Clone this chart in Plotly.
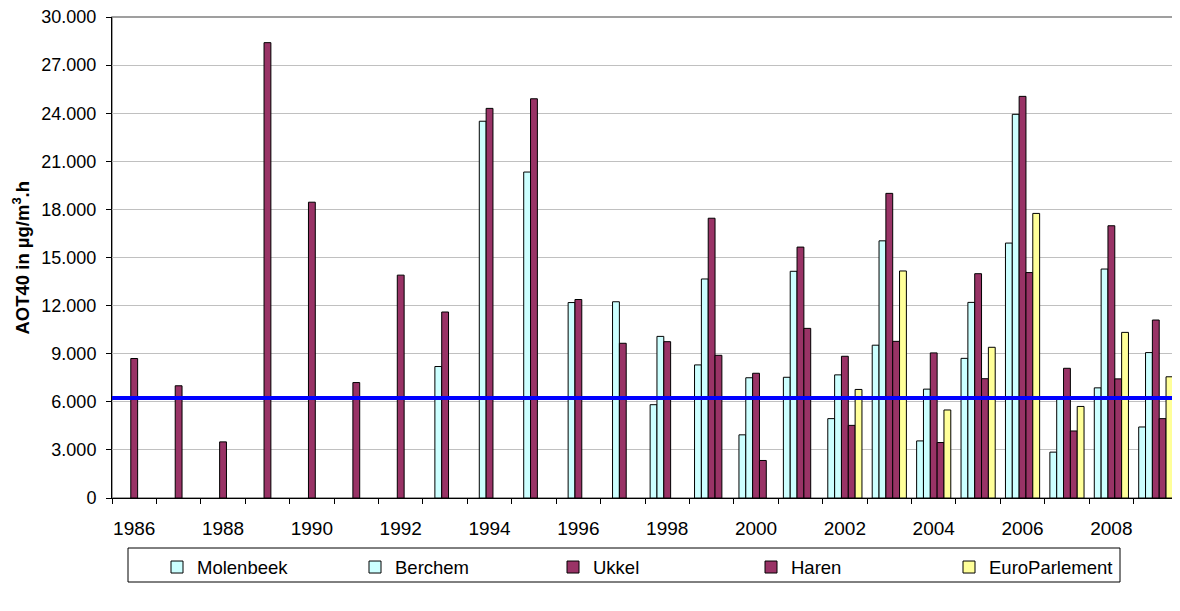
import plotly.graph_objects as go

years = list(range(1986, 2010))
series_names = ["Molenbeek", "Berchem", "Ukkel", "Haren", "EuroParlement"]
N = None
molenbeek = [N]*12 + [5820, 8300, 3940, 7530, 4950, 9530, 3560, 8710, 15900, 2860, 6870, 4430]
berchem = [N]*7 + [8200, 23500, 20330, 12190, 12240, 10080, 13660, 7500, 14140, 7680, 16040, 6790, 12200, 23930, 6200, 14280, 9070]
ukkel = [8700, 7000, 3500, 28400, 18450, 7200, 13900, 11600, 24300, 24900, 12380, 9650, 9750, 17450, 7780, 15650, 8840, 19000, 9050, 13990, 25050, 8090, 16980, 11100]
haren = [N]*13 + [8900, 2340, 10580, 4530, 9770, 3460, 7440, 14060, 4180, 7430, 4950]
europarlement = [N]*16 + [6770, 14160, 5490, 9400, 17750, 5710, 10330, 7560]
target_value = 6230
tick_years = list(range(1986, 2010, 2))
y_ticks = list(range(0, 30001, 3000))

colors = ["#CCFFFF", "#CCFFFF", "#993366", "#993366", "#FFFF99"]
values = [molenbeek, berchem, ukkel, haren, europarlement]

fig = go.Figure()
for name, vals, col in zip(series_names, values, colors):
    fig.add_trace(go.Bar(
        x=years, y=vals, name=name,
        marker=dict(color=col, line=dict(color="black", width=1)),
    ))

PLOT_H = 481  # plot-area height in px (603 - 9 - 113)
fig.add_shape(type="line", xref="paper", yref="y", x0=0, x1=1,
              y0=target_value, y1=target_value,
              line=dict(color="#0000FF", width=4), layer="above")
# plot area border (grey top/right)
fig.add_shape(type="rect", xref="paper", yref="paper", x0=0, x1=1, y0=0, y1=1,
              line=dict(color="#808080", width=1.5), layer="below")
# legend frame
fig.add_shape(type="rect", xref="paper", yref="paper",
              x0=(128-112)/1066, x1=(1120-112)/1066,
              y0=-(582-498)/PLOT_H, y1=-(548-498)/PLOT_H,
              line=dict(color="black", width=1), fillcolor="rgba(0,0,0,0)")

font = "Liberation Sans, Arial, sans-serif"
# page body has an 8px margin: figure is sized/offset to compensate
fig.update_layout(
    width=1172, height=603,
    margin=dict(l=104, r=2, t=9, b=113, autoexpand=False),
    paper_bgcolor="white", plot_bgcolor="white",
    barmode="group", bargap=1.5/6.5, bargroupgap=0,
    separators=",.",
    font=dict(family=font, size=18, color="black"),
    showlegend=True,
    legend=dict(orientation="h", x=(157-112)/1066, y=-50.5/PLOT_H, xanchor="left", yanchor="top",
                borderwidth=0, bgcolor="rgba(0,0,0,0)", font=dict(size=18.5),
                entrywidth=153, entrywidthmode="pixels", itemwidth=30,
                traceorder="normal"),
    xaxis=dict(range=[1985.5, 2009.5], tickmode="array", tickvals=tick_years,
               ticktext=[str(y) for y in tick_years],
               showgrid=False, zeroline=False, showline=True, linecolor="black", linewidth=1,
               ticks="outside", ticklen=5, tickcolor="rgba(0,0,0,0)",
               ticklabelstandoff=8,
               minor=dict(tick0=1985.5, dtick=1, ticks="outside", ticklen=5,
                          tickcolor="black", showgrid=False),
               tickfont=dict(size=19)),
    yaxis=dict(range=[0, 30000], tickmode="array", tickvals=y_ticks, tickformat=",d",
               showgrid=True, gridcolor="#C0C0C0", gridwidth=1, zeroline=False,
               showline=True, linecolor="black", linewidth=1,
               ticks="outside", ticklen=5, tickcolor="black", ticklabelstandoff=6,
               ticklabeloverflow="allow",
               tickfont=dict(size=18)),
)
fig.add_annotation(text="<b>AOT40 in µg/m<sup>3</sup>.h</b>", xref="paper", yref="paper",
                   x=(21-112)/1066, y=0.5, textangle=-90, showarrow=False,
                   xanchor="center", yanchor="middle", font=dict(size=18.5))

fig.write_html("out.html")
